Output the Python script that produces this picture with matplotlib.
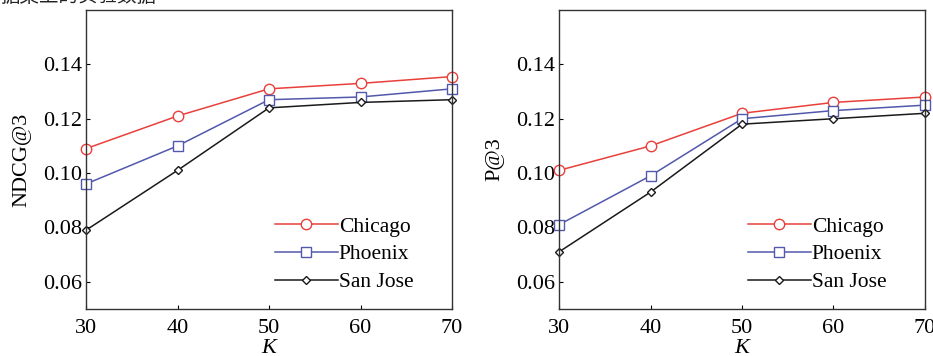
import matplotlib
matplotlib.use('Agg')
import matplotlib.pyplot as plt

# K values and series
k_values = [30, 40, 50, 60, 70]
cities = ['Chicago', 'Phoenix', 'San Jose']

ndcg_chicago = [0.109, 0.121, 0.131, 0.133, 0.1355]
ndcg_phoenix = [0.096, 0.110, 0.127, 0.128, 0.131]
ndcg_sanjose = [0.079, 0.101, 0.124, 0.126, 0.127]

p_chicago = [0.101, 0.110, 0.122, 0.126, 0.128]
p_phoenix = [0.081, 0.099, 0.120, 0.123, 0.125]
p_sanjose = [0.071, 0.093, 0.118, 0.120, 0.122]

y_ticks = [0.06, 0.08, 0.10, 0.12, 0.14]
y_tick_labels = ['0.06', '0.08', '0.10', '0.12', '0.14']

colors = ['#e8403a', '#5258ab', '#1a1a1a']
markers = ['o', 's', 'D']
msizes = [7.5, 7, 4.5]

plt.rcParams['font.family'] = ['Liberation Serif', 'Noto Sans CJK SC']

fig = plt.figure(figsize=(9.33, 3.56), dpi=100)
ax1 = fig.add_axes([86 / 933, 1 - 309 / 356, 366 / 933, 299 / 356])
ax2 = fig.add_axes([559 / 933, 1 - 309 / 356, 366 / 933, 299 / 356])


def draw(ax, series, ylabel):
    for vals, name, c, m, ms in zip(series, cities, colors, markers, msizes):
        ax.plot(k_values, vals, color=c, marker=m, markersize=ms,
                markerfacecolor='white', markeredgecolor=c, markeredgewidth=1.0,
                linewidth=1.1, label=name, clip_on=False)
    ax.set_xlim(30, 70)
    ax.set_ylim(0.05, 0.16)
    ax.set_xticks(k_values)
    ax.set_yticks(y_ticks)
    ax.set_yticklabels(y_tick_labels)
    ax.tick_params(direction='in', length=3, labelsize=16)
    ax.tick_params(axis='y', pad=3)
    ax.tick_params(axis='x', pad=7)
    # K label sits just below the tick labels, partly cut by the figure edge
    ax.text(0.5, -0.1, 'K', transform=ax.transAxes, fontsize=16,
            style='italic', ha='center', va='top')
    ax.set_ylabel(ylabel, fontsize=16, labelpad=8)
    for s in ax.spines.values():
        s.set_linewidth(1.0)
        s.set_color('#333333')
    ax.legend(loc='lower right', bbox_to_anchor=(0.918, 0.027), frameon=False,
              fontsize=15.5, handlelength=2.9, handletextpad=0.05,
              labelspacing=0.36, borderaxespad=0.0)


draw(ax1, [ndcg_chicago, ndcg_phoenix, ndcg_sanjose], 'NDCG@3')
draw(ax2, [p_chicago, p_phoenix, p_sanjose], 'P@3')

fig.text(0.0, 1.008, '据集上的实验数据', fontsize=14, ha='left', va='center',
         color='#222222')

fig.savefig('out.png', dpi=100)
